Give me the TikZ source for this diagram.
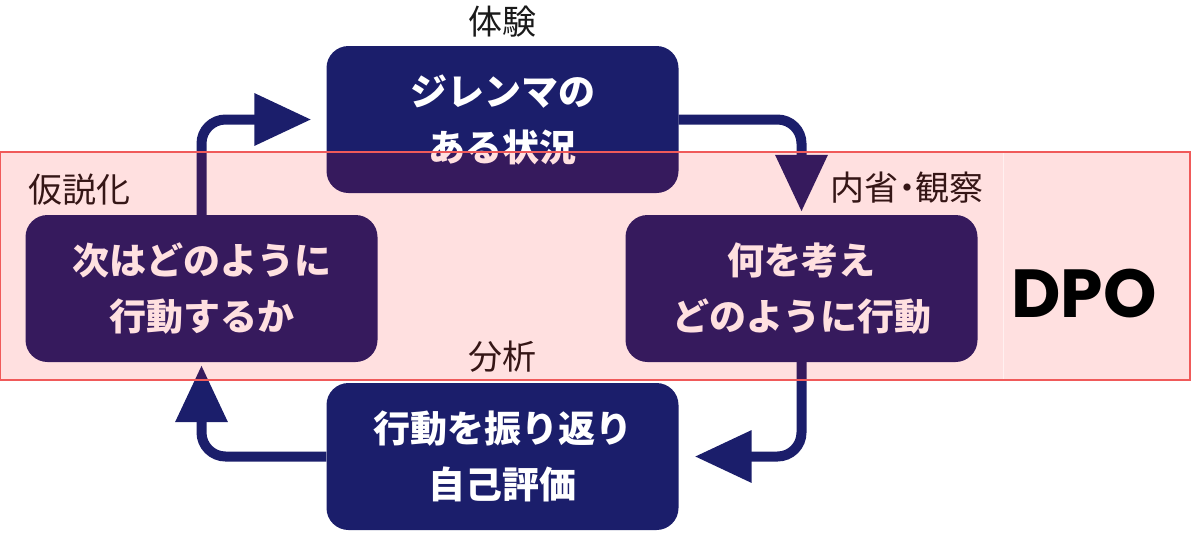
\documentclass[tikz,border=0pt]{standalone}
\usepackage{fontspec}
\newfontfamily\jp{Noto Sans CJK JP}
\newfontfamily\jpp[RawFeature=+palt]{Noto Sans CJK JP}
\newfontfamily\dpofont{Poppins}
\usetikzlibrary{arrows.meta}
\definecolor{navy}{HTML}{1B1E6B}
\definecolor{bandline}{HTML}{F05A5A}
\definecolor{labelc}{HTML}{1A1A1A}
\tikzset{
  stepbox/.style={draw=none, fill=navy, rounded corners=22pt, minimum width=352pt, minimum height=147pt,
    text=white, font=\jp\bfseries\fontsize{37}{56}\selectfont, align=center, inner sep=0pt},
  lab/.style={text=labelc, font=\jp\fontsize{34}{36}\selectfont, inner sep=0pt},
  arr/.style={draw=navy, line width=10pt, rounded corners=24pt,
    -{Triangle[length=57pt,width=50pt]}}
}
\begin{document}
\begin{tikzpicture}[x=1pt,y=-1pt]
\useasboundingbox (0,0) rectangle (1200,550);
\node[stepbox] (top) at (502.5,119.5) {\raisebox{-3pt}{\parbox{352pt}{\centering ジレンマの\\ある状況}}};
\node[stepbox] (left) at (201.5,288.5) {次はどのように\\行動するか};
\node[stepbox] (right) at (801.5,288.5) {何を考え\\どのように行動};
\node[stepbox] (bottom) at (502.5,456.5) {行動を振り返り\\自己評価};
\draw[arr, shorten >=15pt] (left.north) |- (top.west);
\draw[arr, shorten >=3pt] (top.east) -| (right.north);
\draw[arr, shorten >=16pt] (right.south) |- (bottom.east);
\draw[arr, shorten >=3pt] (bottom.west) -| (left.south);
\node[lab] (l1) at (502,22) {体験};
\node[lab] (l2) at (79,190) {仮説化};
\node[lab, font=\jpp\fontsize{34}{36}\selectfont] (l3) at (907,188) {内省・観察};
\node[lab] (l4) at (502,357) {分析};
\fill[red, fill opacity=0.12] (0,152) rectangle (1190,380);
\draw[white, opacity=0.5, line width=1pt] (1003,153) -- (1003,379);
\draw[bandline, line width=2pt] (0,152) rectangle (1190,380);
\node[font=\dpofont\bfseries\fontsize{68}{70}\selectfont, text=black, inner sep=0pt] (dpo) at (1084,294) {DPO};
\end{tikzpicture}
\end{document}
